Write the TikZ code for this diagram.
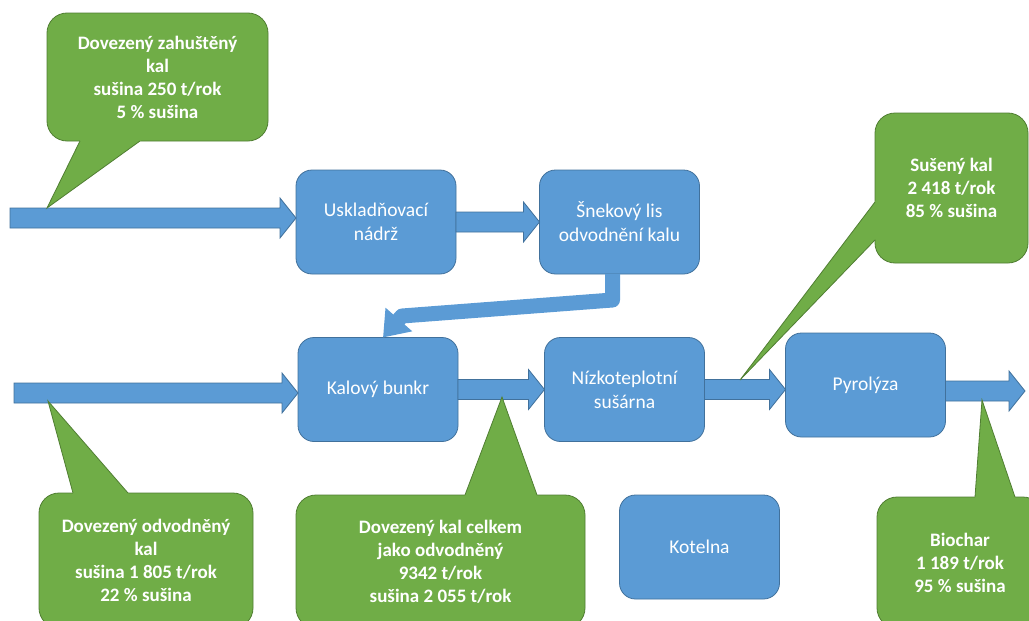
\documentclass[tikz,border=0pt]{standalone}
\usepackage{fontspec}
\setmainfont{Carlito}
\usetikzlibrary{calc,arrows.meta}

\definecolor{boxblue}{HTML}{5B9BD5}
\definecolor{boxblueline}{HTML}{41719C}
\definecolor{notegreen}{HTML}{70AD47}
\definecolor{notegreenline}{HTML}{507E32}

\tikzset{
	process/.style={rectangle, rounded corners=16pt, fill=boxblue, draw=boxblueline, line width=0.8pt,
		text=white, align=center, minimum width=160pt, minimum height=104pt, inner sep=0pt, outer sep=0pt,
		font=\fontsize{19.5}{24}\selectfont},
	note/.style={rectangle, rounded corners=20pt, fill=notegreen, draw=notegreenline, line width=0.8pt,
		text=white, align=center, inner sep=0pt, outer sep=0pt,
		font=\fontsize{19}{23}\selectfont\bfseries},
	flow/.style={fill=boxblue, draw=boxblueline, line width=0.8pt},
	bentflow/.style={draw=boxblue, line width=15pt, line join=round, -{Triangle[length=24pt,width=34pt]}},
}

% block arrow from #1 to #2, at the height of #1
\newcommand{\blockarrow}[2]{%
	\path[flow] let \p1=(#1), \p2=(#2) in
		(\x1,\y1+10pt) -- (\x2-16pt,\y1+10pt) -- (\x2-16pt,\y1+20pt) -- (\x2,\y1)
		-- (\x2-16pt,\y1-20pt) -- (\x2-16pt,\y1-10pt) -- (\x1,\y1-10pt) -- cycle;}

% tail of a note: base #1, tip #2, base #3
\newcommand{\notetail}[3]{%
	\fill[notegreen] ($(#2)!1.08!(#1)$) -- (#2) -- ($(#2)!1.08!(#3)$) -- cycle;
	\draw[notegreenline, line width=0.8pt] (#1) -- (#2) -- (#3);}

\begin{document}
\begin{tikzpicture}[x=1pt, y=-1pt]
	\useasboundingbox (0,0) rectangle (1029,621);
	
	% process boxes
	\node[process] (uskl) at (376,222) {Uskladňovací\\nádrž};
	\node[process] (snek) at (619.5,222) {Šnekový lis\\odvodnění kalu};
	\node[process] (bunkr) at (378,389.5) {Kalový bunkr};
	\node[process] (susarna) at (624.5,389.5) {Nízkoteplotní\\sušárna};
	\node[process] (pyrolyza) at (865.5,385) {Pyrolýza};
	\node[process] (kotelna) at (699.5,547) {Kotelna};
	
	% flows
	\coordinate (in1) at (10,218);
	\coordinate (in2) at (14,393);
	\coordinate (out) at (1025,391);
	\blockarrow{in1}{uskl.west}
	\blockarrow{uskl.east}{snek.west}
	\blockarrow{in2}{bunkr.west}
	\blockarrow{bunkr.east}{susarna.west}
	\blockarrow{susarna.east}{pyrolyza.west}
	\blockarrow{[yshift=-6pt]pyrolyza.east}{out}
	\draw[bentflow] ([xshift=-7pt]snek.south) -- ++(0,26) -- (402,316) -- ([xshift=5pt]bunkr.north);
	
	% notes
	\node[note, minimum width=221pt, minimum height=128pt] (zahust) at (157.5,77)
		{Dovezený zahuštěný\\kal\\sušina 250 t/rok\\5 \% sušina};
	\notetail{80,141}{47,208}{140,141}
	
	\node[note, minimum width=153pt, minimum height=150pt] (suseny) at (951.5,188)
		{Sušený kal\\2 418 t/rok\\85 \% sušina};
	\notetail{875,202}{740,380}{875,240}
	
	\node[note, minimum width=214pt, minimum height=135pt] (odvod) at (146,560.5)
		{Dovezený odvodněný\\kal\\sušina 1 805 t/rok\\22 \% sušina};
	\notetail{73,493}{48,401}{128,493}
	
	\node[note, minimum width=289pt, minimum height=133pt] (celkem) at (440.5,561.5)
		{Dovezený kal celkem\\jako odvodněný\\9342 t/rok\\sušina 2 055 t/rok};
	\notetail{465,495}{502,397}{537,495}
	
	\node[note, minimum width=166pt, minimum height=131pt] (biochar) at (960,562.5)
		{Biochar\\1 189 t/rok\\95 \% sušina};
	\notetail{975,497}{982,400}{1015,497}
\end{tikzpicture}
\end{document}
